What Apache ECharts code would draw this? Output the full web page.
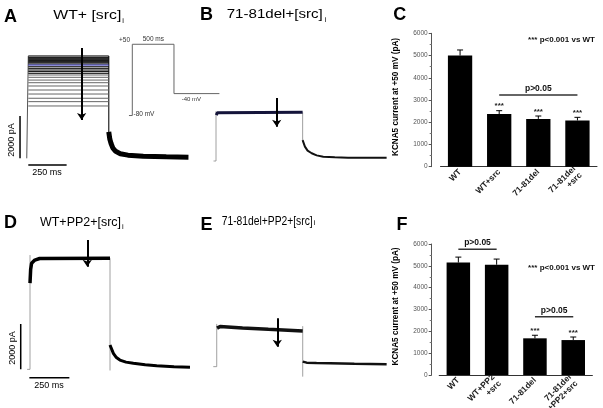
<!DOCTYPE html>
<html><head><meta charset="utf-8">
<script src="https://cdn.jsdelivr.net/npm/echarts@6/dist/echarts.min.js"></script>
<style>html,body{margin:0;padding:0;background:#fff}#c{width:603px;height:408px}</style>
</head><body><div id="c"></div>
<script>
// ================= DATA =================
// Panel A: WT + [src]i — steady-state level of each sweep (pA)
const sweepLevelsA = [4840,4775,4730,4680,4620,4570,4520,4460,4410,4330,4255,4175,4100,4020,3940,3830,3700,3575,3420,3230,3040,2840,2680,2475];
const blueSweepA = 8;
const pulseEndA = 525;   // ms
const riseA = [[-10,0],[0,0],[0,4840]];
const dropA = [[525,4840],[525,1250]];
const tailA = [[525,1250],[532,900],[540,700],[552,480],[570,330],[600,220],[650,150],[750,100],[900,70],[1045,55]];
const arrowA = [[348,5215],[348,1811]];
const scaleVA = [[-54,0],[-54,2000]];
const scaleHA = [[0,-317],[250,-317]];
// Voltage protocol inset (mV vs ms)
const protocolV = [[-40,-80],[0,-80],[0,50],[500,50],[500,-40],[1045,-40]];
// Panel B: 71-81del + [src]i
const riseB = [[-15,0],[0,0],[0,2120]];
const plateauB = [[2,1950],[8,2050],[20,2075],[525,2075]];
const dropB = [[525,2075],[525,890]];
const tailB = [[525,890],[539,610],[555,440],[580,330],[610,240],[650,185],[720,155],[800,140],[1034,140]];
const arrowB = [[368,2681],[368,1460]];
// Panel D: WT + PP2 + [src]i
const riseD = [[-18,0],[0,0],[0,5040]];
const plateauD = [[0,3800],[4,4400],[10,4680],[30,4820],[60,4890],[500,4900]];
const dropD = [[500,4900],[500,-50]];
const tailD = [[500,1072],[521,706],[540,520],[562,410],[600,320],[646,265],[720,200],[792,159],[900,115],[1000,88]];
const arrowD = [[358,5704],[358,4526]];
const scaleVD = [[-58,0],[-58,2000]];
const scaleHD = [[-4,-370],[246,-370]];
// Panel E: 71-81del + PP2 + [src]i
const riseE = [[-20,0],[0,0],[0,1730]];
const plateauE = [[2,1560],[6,1640],[20,1630],[150,1570],[300,1510],[500,1445]];
const dropE = [[500,1640],[500,-405]];
const tailE = [[500,205],[523,162],[580,148],[659,138],[800,118],[988,97]];
const arrowE = [[352,1960],[352,810]];
// Panel C bars
const catsC = ['WT','WT+src','71-81del','71-81del\n+src'];
const meanC = [5000,2370,2150,2080];
const semC  = [250,150,130,140];
const sigC  = [0,1,1,1];
const bracketC = [[1,3,3230]];
const bracketLabelC = ['p>0.05'];
// Panel F bars
const catsF = ['WT','WT+PP2\n+src','71-81del','71-81del\n+PP2+src'];
const meanF = [5150,5050,1680,1600];
const semF  = [250,260,140,140];
const sigF  = [0,0,1,1];
const bracketF = [[0,1,5760],[2,3,2670]];
const bracketLabelF = ['p>0.05','p>0.05'];
const yTickStep = 1000, yMin = 0, yMax = 6000;

// ================= LAYOUT =================
const FONT = 'Liberation Sans, Arial, Helvetica, sans-serif';
const grids = [
  {left:19.1, top:42, width:177.8, height:126.9},     // 0 A
  {left:127.3, top:38.8, width:96.7, height:82.2},    // 1 inset
  {left:206.1, top:31.75, width:191.4, height:141},   // 2 B
  {left:440.5, top:33.3, width:156.5, height:133.4},  // 3 C
  {left:20.4, top:233.3, width:185.6, height:147.4},  // 4 D
  {left:206.4, top:218.5, width:199.5, height:160.5}, // 5 E
  {left:439.2, top:244, width:153.2, height:131}      // 6 F
].map(g => Object.assign({outerBoundsMode:'none', containLabel:false}, g));

const traceRanges = {0:[-500,5500], 1:[-90,60], 2:[-500,5500], 4:[-500,6000], 5:[-500,6000]};
const xAxes = [], yAxes = [];
for (let i = 0; i < 7; i++) {
  if (i === 3 || i === 6) {
    const cats = i === 3 ? catsC : catsF;
    xAxes.push({type:'category', gridIndex:i, data:cats, axisLine:{lineStyle:{color:'#333', width:1}},
      axisTick:{show:false},
      axisLabel:{interval:0, rotate:45, fontSize:8.5, fontWeight:'bold', fontFamily:FONT, color:'#222', margin:4, lineHeight:9}});
    yAxes.push({type:'value', gridIndex:i, min:yMin, max:yMax, interval:yTickStep, offset: i === 3 ? 8.8 : 7.5,
      axisLine:{show:true, lineStyle:{color:'#555', width:1}},
      axisTick:{show:true, length:3, lineStyle:{color:'#555'}},
      minorTick:{show:true, splitNumber:2, length:2, lineStyle:{color:'#777'}},
      splitLine:{show:false},
      axisLabel:{fontSize:6.5, fontFamily:FONT, color:'#555', margin:4, formatter:function(v){return String(v);}}});
  } else {
    xAxes.push({type:'value', gridIndex:i, show:false, min:-60, max:1100});
    yAxes.push({type:'value', gridIndex:i, show:false, min:traceRanges[i][0], max:traceRanges[i][1]});
  }
}

function ln(gi, data, color, width, z) {
  return {type:'line', xAxisIndex:gi, yAxisIndex:gi, data:data, symbol:'none', showSymbol:false,
    lineStyle:{color:color, width:width}, silent:true, animation:false, z:z||2};
}
function arrow(gi, pts) {
  return {type:'lines', coordinateSystem:'cartesian2d', xAxisIndex:gi, yAxisIndex:gi,
    data:[{coords:pts}], symbol:['none','arrow'], symbolSize:[0,7],
    lineStyle:{color:'#000', width:2, opacity:1}, silent:true, animation:false, z:10};
}
function errSeries(gi, means, sems, sig) {
  return {type:'custom', xAxisIndex:gi, yAxisIndex:gi, silent:true, animation:false, z:5,
    encode:{x:0, y:1},
    data: means.map((m, i) => [i, m, sems[i], sig[i]]),
    renderItem: function(params, api) {
      const i = api.value(0), m = api.value(1), s = api.value(2), g = api.value(3);
      const a = api.coord([i, m]), b = api.coord([i, m + s]);
      const ch = [
        {type:'line', shape:{x1:a[0], y1:a[1], x2:b[0], y2:b[1]}, style:{stroke:'#000', lineWidth:1}},
        {type:'line', shape:{x1:b[0]-3, y1:b[1], x2:b[0]+3, y2:b[1]}, style:{stroke:'#000', lineWidth:1}}
      ];
      if (g) ch.push({type:'text', x:b[0], y:b[1]-0.5, style:{text:'***', fontSize:8, fontWeight:'bold', fontFamily:FONT, fill:'#222',
        align:'center', verticalAlign:'bottom', textAlign:'center', textVerticalAlign:'bottom'}});
      return {type:'group', children:ch};
    }};
}
function bracketSeries(gi, br, labels) {
  return {type:'custom', xAxisIndex:gi, yAxisIndex:gi, silent:true, animation:false, z:5,
    encode:{x:0, y:2}, data:br,
    renderItem: function(params, api) {
      const a = api.coord([api.value(0), api.value(2)]);
      const b = api.coord([api.value(1), api.value(2)]);
      return {type:'group', children:[
        {type:'line', shape:{x1:a[0], y1:a[1], x2:b[0], y2:b[1]}, style:{stroke:'#333', lineWidth:1.5}},
        {type:'text', x:(a[0]+b[0])/2, y:a[1]-2, style:{text:labels[params.dataIndex], fontSize:8.5, fontWeight:'bold', fontFamily:FONT, fill:'#111',
          align:'center', verticalAlign:'bottom', textAlign:'center', textVerticalAlign:'bottom'}}
      ]};
    }};
}

const series = [];
// Panel A
series.push(ln(0, riseA, '#555', 1));
sweepLevelsA.forEach((L, i) => {
  const col = i === blueSweepA ? '#2b2bb5' : (i < 14 ? '#000' : '#666');
  series.push(ln(0, [[0, L], [pulseEndA, L]], col, 1, i === blueSweepA ? 4 : 3));
});
series.push(ln(0, dropA, '#222', 1.2));
series.push(ln(0, tailA, '#000', 5, 4));
series.push(ln(0, scaleVA, '#000', 1.5));
series.push(ln(0, scaleHA, '#000', 1.5));
series.push(arrow(0, arrowA));
// Inset
series.push(ln(1, protocolV, '#666', 1));
// Panel B
series.push(ln(2, riseB, '#888', 0.8));
series.push(ln(2, plateauB, '#14143a', 3, 4));
series.push(ln(2, dropB, '#888', 0.8));
series.push(ln(2, tailB, '#111', 2, 4));
series.push(arrow(2, arrowB));
// Panel D
series.push(ln(4, riseD, '#888', 0.8));
series.push(ln(4, plateauD, '#000', 3.5, 4));
series.push(ln(4, dropD, '#888', 0.8));
series.push(ln(4, tailD, '#000', 3, 4));
series.push(ln(4, scaleVD, '#000', 1.5));
series.push(ln(4, scaleHD, '#000', 1.5));
series.push(arrow(4, arrowD));
// Panel E
series.push(ln(5, riseE, '#888', 0.8));
series.push(ln(5, plateauE, '#111', 3.5, 4));
series.push(ln(5, dropE, '#888', 0.8));
series.push(ln(5, tailE, '#111', 2.5, 4));
series.push(arrow(5, arrowE));
// Panel C
series.push({type:'bar', xAxisIndex:3, yAxisIndex:3, data:meanC, barWidth:24.3, itemStyle:{color:'#000'}, silent:true, animation:false});
series.push(errSeries(3, meanC, semC, sigC));
series.push(bracketSeries(3, bracketC, bracketLabelC));
// Panel F
series.push({type:'bar', xAxisIndex:6, yAxisIndex:6, data:meanF, barWidth:23.5, itemStyle:{color:'#000'}, silent:true, animation:false});
series.push(errSeries(6, meanF, semF, sigF));
series.push(bracketSeries(6, bracketF, bracketLabelF));

// ================= TEXT =================
const mctx = document.createElement('canvas').getContext('2d');
function txt(t, x, y, size, opts) {
  opts = opts || {};
  const weight = opts.bold ? 'bold' : 'normal';
  const el = {type:'text', x:x, y:y, silent:true, z:100,
    style:{text:t, fontSize:size, fontWeight:weight, fontFamily:FONT, fill:opts.color || '#000',
      align:opts.align || 'left', textAlign:opts.align || 'left',
      verticalAlign:'middle', textVerticalAlign:'middle'}};
  if (opts.rot) el.rotation = opts.rot;
  if (opts.width) {
    mctx.font = weight + ' ' + size + 'px ' + FONT;
    el.scaleX = opts.width / mctx.measureText(t).width;
  }
  return el;
}
const graphic = [
  txt('A', 4, 17.5, 18, {bold:true}),
  txt('WT+ [src]', 53.3, 15, 13, {width:68}),
  txt('i', 122.3, 20.8, 7.5),
  txt('B', 200, 15.5, 18, {bold:true}),
  txt('71-81del+[src]', 226.7, 14.7, 13, {width:96}),
  txt('i', 324.5, 20.2, 7.5),
  txt('C', 393.3, 15.5, 18, {bold:true}),
  txt('D', 4, 223, 18, {bold:true}),
  txt('WT+PP2+[src]', 40, 222, 13, {width:81}),
  txt('i', 122, 227, 7.5),
  txt('E', 200.5, 225, 18, {bold:true}),
  txt('71-81del+PP2+[src]', 221.7, 221, 13, {width:91}),
  txt('i', 313.5, 222.5, 7.5),
  txt('F', 396.5, 225, 18, {bold:true}),
  txt('+50', 130, 40.7, 6.5, {align:'right', color:'#333'}),
  txt('500 ms', 142.7, 39.3, 6.5, {color:'#333'}),
  txt('-40 mV', 181.7, 99, 6, {color:'#333'}),
  txt('-80 mV', 133.5, 114.5, 6.5, {color:'#333'}),
  txt('2000 pA', 12, 140, 9, {align:'center', rot:Math.PI/2}),
  txt('250 ms', 47, 172.7, 9, {align:'center'}),
  txt('2000 pA', 13, 348, 9, {align:'center', rot:Math.PI/2}),
  txt('250 ms', 49, 386, 9, {align:'center'}),
  txt('KCNA5 current at +50 mV (pA)', 395.8, 97, 8.2, {bold:true, align:'center', rot:Math.PI/2}),
  txt('KCNA5 current at +50 mV (pA)', 395.8, 306.5, 8.2, {bold:true, align:'center', rot:Math.PI/2}),
  txt('*** p<0.001 vs WT', 595, 40, 8, {bold:true, align:'right', color:'#111'}),
  txt('*** p<0.001 vs WT', 595, 267.3, 8, {bold:true, align:'right', color:'#111'})
];

const chart = echarts.init(document.getElementById('c'), null, {renderer:'canvas'});
chart.setOption({
  backgroundColor:'#fff',
  animation:false,
  grid:grids, xAxis:xAxes, yAxis:yAxes, series:series, graphic:graphic
});
</script></body></html>
